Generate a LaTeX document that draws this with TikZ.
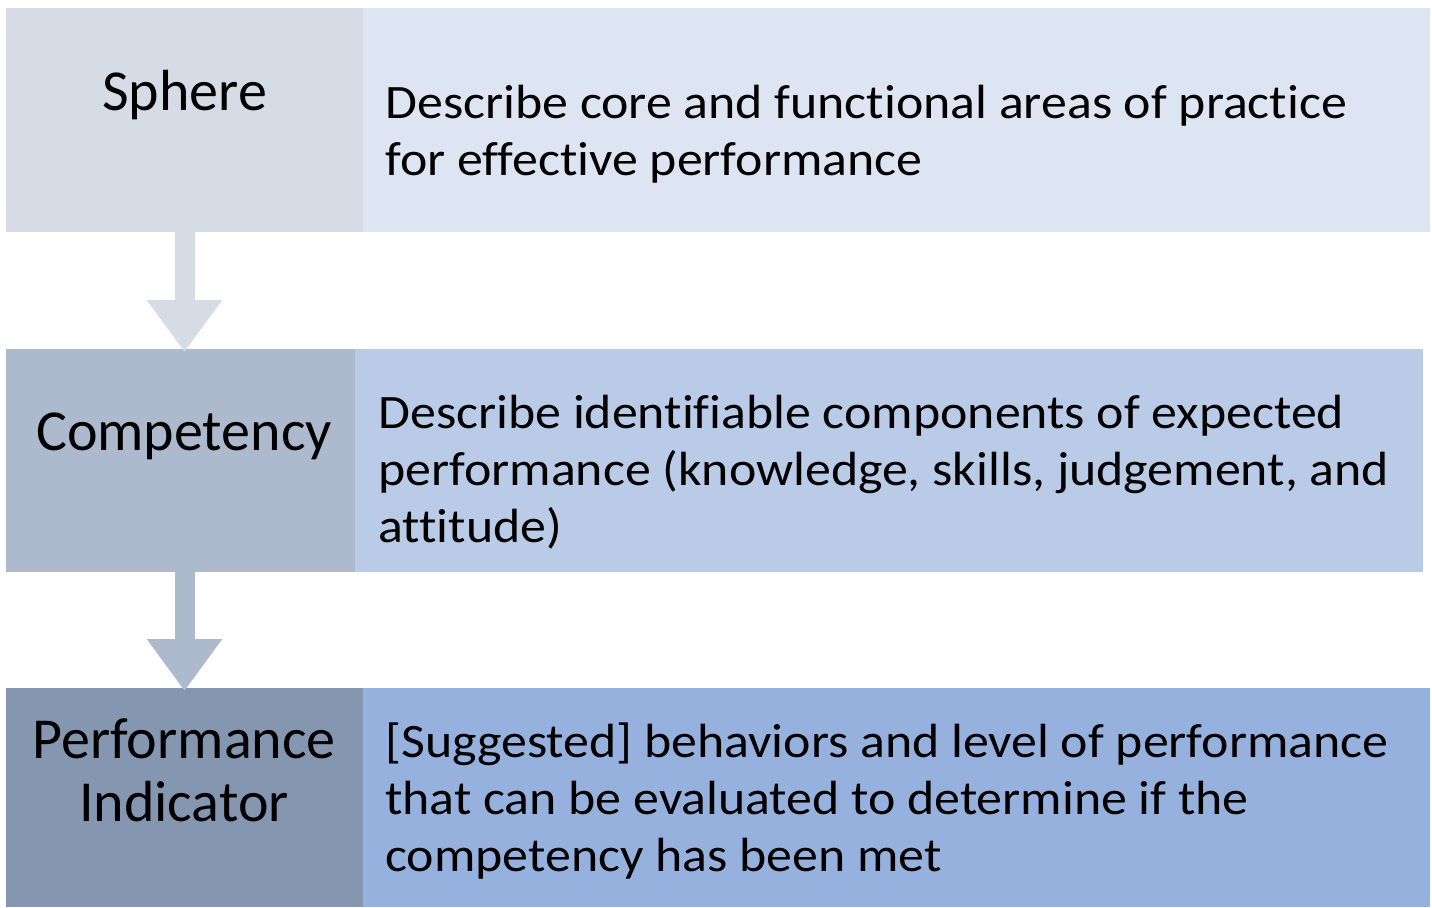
\documentclass[tikz,border=0pt]{standalone}
\usepackage{fontspec}
\setmainfont[Ligatures=NoCommon]{Carlito}
\newfontfamily\descfont[FakeStretch=1.08, Ligatures=NoCommon]{Carlito}
\usetikzlibrary{arrows.meta,positioning}
\definecolor{spherefill}{HTML}{D5DCE6}
\definecolor{spheredescfill}{HTML}{DEE5F2}
\definecolor{compfill}{HTML}{ADB9CC}
\definecolor{compdescfill}{HTML}{B9CBE7}
\definecolor{perffill}{HTML}{8496B0}
\definecolor{perfdescfill}{HTML}{97B1DF}

\begin{document}
\begin{tikzpicture}[x=0.5pt, y=-0.5pt]
    % Define styles
    \tikzset{
        box/.style={rectangle, anchor=north west, inner sep=0pt, outer sep=0pt, minimum height=112pt},
        lbltext/.style={font=\fontsize{29}{31.5}\selectfont, align=center, inner sep=0pt, anchor=base},
        desctext/.style={font=\descfont\fontsize{24}{28.5}\selectfont, align=left, inner sep=0pt, anchor=base west},
        flow/.style={line width=10pt, -{Triangle[width=36pt, length=26pt]}},
    }
    \useasboundingbox (0,0) rectangle (1432,907);

    % Boxes
    \node[box, fill=spherefill, minimum width=178.5pt] (sphere) at (6,8) {};
    \node[box, fill=spheredescfill, minimum width=533.5pt] (spheredesc) at (363,8) {};

    \node[box, fill=compfill, minimum width=174.5pt, minimum height=111.5pt] (comp) at (6,349) {};
    \node[box, fill=compdescfill, minimum width=534pt, minimum height=111.5pt] (compdesc) at (355,349) {};

    \node[box, fill=perffill, minimum width=178.5pt, minimum height=109.5pt] (perf) at (6,688) {};
    \node[box, fill=perfdescfill, minimum width=533.5pt, minimum height=109.5pt] (perfdesc) at (363,688) {};

    % Labels
    \node[lbltext] (spherelbl) at (184.5,110) {Sphere};
    \node[lbltext] (complbl) at (184,450) {Competency};
    \node[lbltext] (perflbl) at (184,821) {Performance\\Indicator};

    % Descriptions
    \node[desctext] (spheretxt) at (385,175) {Describe core and functional areas of practice\\for effective performance};
    \node[desctext] (comptxt) at (378,542) {Describe identifiable components of expected\\performance (knowledge, skills, judgement, and\\attitude)};
    \node[desctext] (perftxt) at (385,871) {[Suggested] behaviors and level of performance\\that can be evaluated to determine if the\\competency has been met};

    % Arrows
    \draw[flow, draw=spherefill] (sphere.south) -- ([yshift=-1.5pt]sphere.south |- comp.north);
    \draw[flow, draw=compfill] (perf.north |- comp.south) -- ([yshift=-1.5pt]perf.north);
\end{tikzpicture}
\end{document}
